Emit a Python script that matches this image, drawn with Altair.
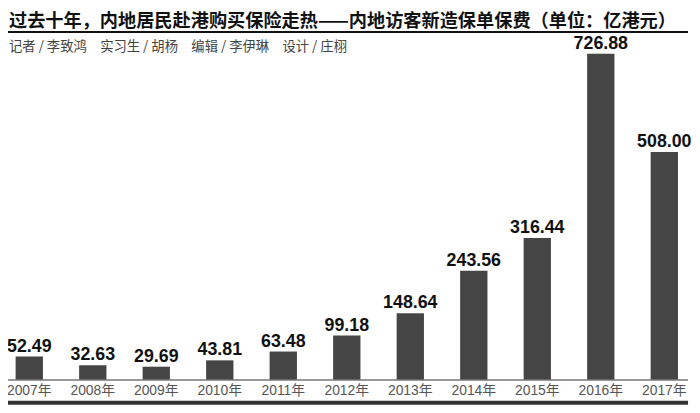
import altair as alt
import pandas as pd

years = ["2007年", "2008年", "2009年", "2010年", "2011年", "2012年",
         "2013年", "2014年", "2015年", "2016年", "2017年"]
premiums = [52.49, 32.63, 29.69, 43.81, 63.48, 99.18, 148.64, 243.56, 316.44, 726.88, 508.00]

title_text = "过去十年，内地居民赴港购买保险走热——内地访客新造保单保费（单位：亿港元）"
credit_text = "记者 / 李致鸿\u2003实习生 / 胡杨\u2003编辑 / 李伊琳\u2003设计 / 庄栩"

W, H = 692, 405

df = pd.DataFrame({"year": years, "value": premiums})
df["label"] = [f"{v:.2f}" for v in premiums]

xs = alt.X("year:N", sort=years, axis=None,
           scale=alt.Scale(range=[-10.6, 696.1], paddingInner=0.57, paddingOuter=0.285))
ys = alt.Y("value:Q", axis=None, scale=alt.Scale(domain=[0, 726.88], range=[374, 44]))

base = alt.Chart(df)

bars = base.mark_bar(color="#454545").encode(x=xs, y=ys)

values = base.mark_text(
    baseline="alphabetic", dy=-5, fontSize=18, fontWeight="bold",
    font="Liberation Sans", color="#111111"
).encode(x=xs, y=ys, text="label:N")

year_labels = base.mark_text(
    baseline="middle", fontSize=14, font="Liberation Sans, Noto Sans CJK SC", color="#555555"
).encode(x=xs, y=alt.value(385.5), text="year:N")

one = alt.Data(values=[{"a": 1}])

axis_line = alt.Chart(one).mark_rule(color="#777777", strokeWidth=1.5).encode(
    x=alt.value(0), x2=alt.value(688), y=alt.value(374))
bottom_line = alt.Chart(one).mark_rule(color="#333333", strokeWidth=4).encode(
    x=alt.value(0), x2=alt.value(688), y=alt.value(397))
title_line = alt.Chart(one).mark_rule(color="#111111", strokeWidth=2).encode(
    x=alt.value(0), x2=alt.value(688), y=alt.value(22))

title = alt.Chart(pd.DataFrame({"t": [title_text]})).mark_text(
    align="left", baseline="middle", fontSize=18.4, fontWeight="bold",
    font="Noto Sans CJK SC", color="#111111"
).encode(x=alt.value(1), y=alt.value(11), text="t:N")

credit = alt.Chart(pd.DataFrame({"t": [credit_text]})).mark_text(
    align="left", baseline="middle", fontSize=13.5, font="Noto Sans CJK SC", color="#444444"
).encode(x=alt.value(1), y=alt.value(37), text="t:N")

chart = alt.layer(
    bars, values, year_labels, axis_line, bottom_line, title_line, title, credit
).properties(
    width=W, height=H, padding=0, autosize=alt.AutoSizeParams(type="none")
).configure_view(stroke=None)

chart.save("out.html", embed_options={"renderer": "svg", "actions": False})
